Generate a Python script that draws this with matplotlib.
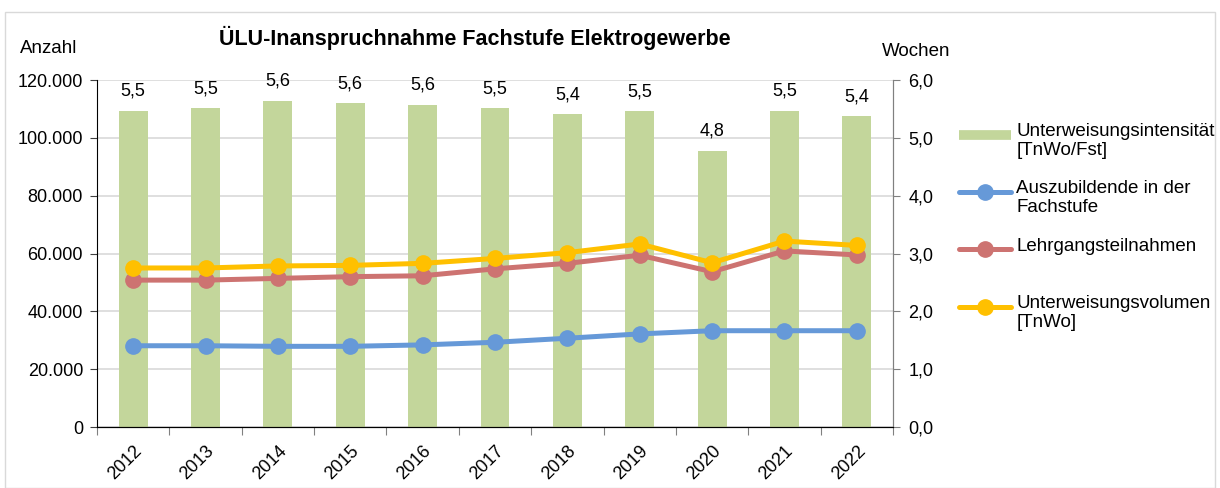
import matplotlib
matplotlib.use("Agg")
import matplotlib.pyplot as plt
from matplotlib.lines import Line2D
from matplotlib.patches import Rectangle
import numpy as np

plt.rcParams['font.family'] = ['Liberation Sans', 'DejaVu Sans']

years = ['2012', '2013', '2014', '2015', '2016', '2017', '2018', '2019', '2020', '2021', '2022']
intensitaet = [5.47, 5.51, 5.64, 5.60, 5.57, 5.51, 5.41, 5.46, 4.78, 5.47, 5.37]
azubis = [28100, 28100, 27900, 27900, 28400, 29300, 30700, 32200, 33300, 33300, 33300]
lehrgaenge = [50800, 50800, 51400, 52000, 52300, 54700, 56600, 59400, 53700, 60900, 59500]
volumen = [55000, 55000, 55700, 55900, 56600, 58300, 60300, 63300, 56800, 64300, 62800]

green = '#C3D69B'
blue = '#6699D8'
red = '#CD7371'
yellow = '#FFC000'

legend_labels = ['Unterweisungsintensität\n[TnWo/Fst]', 'Auszubildende in der\nFachstufe',
                 'Lehrgangsteilnahmen', 'Unterweisungsvolumen\n[TnWo]']

fig = plt.figure(figsize=(12.2, 4.88), dpi=100)
fig.add_artist(Rectangle((0.004, 0.0), 0.992, 0.975, transform=fig.transFigure,
                         fill=False, edgecolor='#D9D9D9', linewidth=1))

ax2 = fig.add_axes([0.0795, 0.125, 0.6525, 0.711])
ax1 = ax2.twinx()
ax1.set_zorder(ax2.get_zorder() + 1)
ax1.patch.set_visible(False)

x = np.arange(len(years))

# bars on right scale, behind lines
bars = ax2.bar(x, intensitaet, width=0.4, color=green, zorder=2)
ax2.bar_label(bars, labels=[f'{v:.1f}'.replace('.', ',') for v in intensitaet],
              padding=8, fontsize=13)
ax2.set_ylim(0, 6)
ax2.set_yticks(np.arange(0, 6.1, 1))
ax2.set_yticklabels([f'{v:.1f}'.replace('.', ',') for v in np.arange(0, 6.1, 1)])
ax2.yaxis.tick_right()
ax2.yaxis.grid(True, color='#D9D9D9', linewidth=1.2, zorder=0)
ax2.set_axisbelow(True)

# lines on left scale
ax1.yaxis.tick_left()
ax1.plot(x, azubis, color=blue, lw=3.6, marker='o', ms=11, zorder=3)
ax1.plot(x, lehrgaenge, color=red, lw=3.6, marker='o', ms=11, zorder=3)
ax1.plot(x, volumen, color=yellow, lw=3.6, marker='o', ms=11, zorder=3)
ax1.set_ylim(0, 120000)
ax1.set_yticks(np.arange(0, 120001, 20000))
ax1.set_yticklabels([f'{int(v):,}'.replace(',', '.') for v in np.arange(0, 120001, 20000)])

ax2.set_xlim(-0.5, len(years) - 0.5)
ax2.set_xticks(np.arange(-0.5, len(years)), labels=[])
ax2.set_xticks(x, labels=years, minor=True)
ax2.tick_params(axis='x', which='major', length=6, color='#808080')
ax2.tick_params(axis='x', which='minor', length=0, pad=11)
for lab in ax2.get_xticklabels(minor=True):
    lab.set_rotation(45)
    lab.set_ha('right')
    lab.set_rotation_mode('anchor')
    lab.set_fontsize(13)

ax1.tick_params(axis='y', length=5, labelsize=13, color='#404040', pad=5)
ax2.tick_params(axis='y', length=5, labelsize=13, color='#808080', pad=6)

for a in (ax1, ax2):
    a.spines['top'].set_visible(False)
ax1.spines['left'].set_color('black')
ax1.spines['bottom'].set_color('black')
ax1.spines['right'].set_color('#808080')
ax2.spines['right'].set_color('#808080')
ax2.spines['left'].set_visible(False)
ax2.spines['bottom'].set_color('black')

fig.text(0.389, 0.922, 'ÜLU-Inanspruchnahme Fachstufe Elektrogewerbe',
         ha='center', va='center', fontsize=15.5, fontweight='bold')
fig.text(0.016, 0.900, 'Anzahl', ha='left', va='center', fontsize=13.5)
fig.text(0.723, 0.894, 'Wochen', ha='left', va='center', fontsize=13.5)

# legend, Excel style: handle aligned with first text line
handles = [('patch', green), ('line', blue), ('line', red), ('line', yellow)]
y0 = 1 - 135 / 488
step = 57.2 / 488
for i, ((kind, col), lab) in enumerate(zip(handles, legend_labels)):
    yy = y0 - i * step
    if kind == 'patch':
        fig.add_artist(Line2D([0.786, 0.829], [yy, yy], transform=fig.transFigure,
                              color=col, lw=7, solid_capstyle='butt'))
    else:
        fig.add_artist(Line2D([0.786, 0.829], [yy, yy], transform=fig.transFigure,
                              color=col, lw=3.6, solid_capstyle='round'))
        fig.add_artist(Line2D([0.8075], [yy], transform=fig.transFigure,
                              color=col, marker='o', ms=11))
    fig.text(0.833, yy + 0.024, lab, ha='left', va='top', fontsize=13.5, linespacing=1.15)

fig.savefig('out.png', dpi=100)
